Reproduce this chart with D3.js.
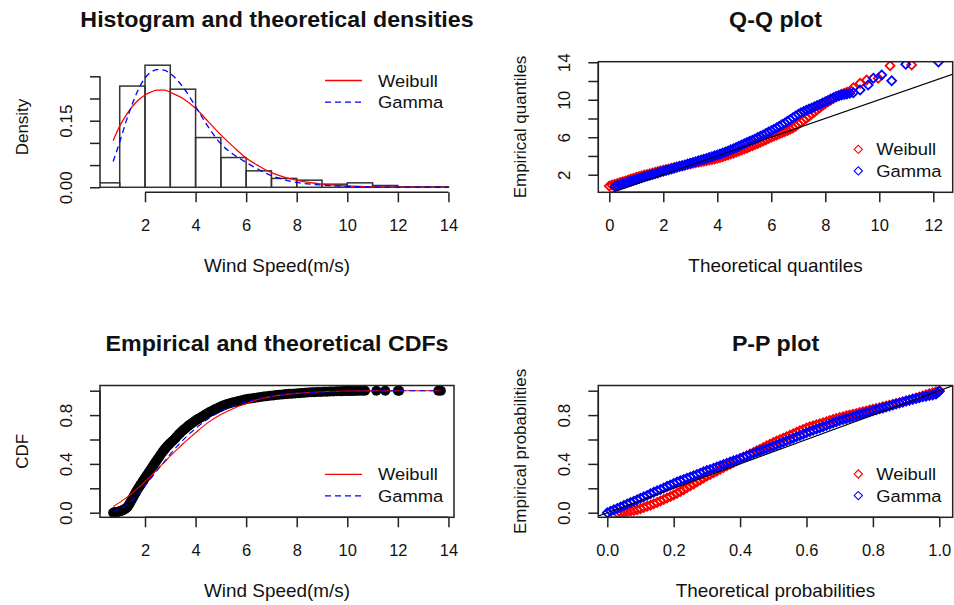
<!DOCTYPE html>
<html>
<head>
<meta charset="utf-8">
<script src="https://cdn.jsdelivr.net/npm/d3@7"></script>
<style>
  html, body { margin: 0; padding: 0; background: #fff; }
  svg { display: block; font-family: "Liberation Sans", Arial, sans-serif; }
</style>
</head>
<body>
<div id="chart"></div>
<script>
const width = 954;
const height = 605;

// ---- histogram of wind speed (density per 1 m/s bin) ----
const histBreaks = [0, 1, 2, 3, 4, 5, 6, 7, 8, 9, 10, 11, 12, 13, 14];
const histDensity = [0.010, 0.228, 0.275, 0.221, 0.112, 0.067, 0.037, 0.020, 0.016, 0.007, 0.010, 0.004, 0.001, 0.001];

// fitted densities
const densX = [0.74, 1, 1.25, 1.5, 1.75, 2, 2.25, 2.5, 2.75, 3, 3.5, 4, 4.5, 5, 5.5, 6, 6.5, 7, 7.5, 8, 9, 10, 11, 12, 13, 14];
const densWeibull = [0.105, 0.138, 0.162, 0.182, 0.197, 0.208, 0.215, 0.219, 0.219, 0.214, 0.200, 0.178, 0.148, 0.118, 0.091, 0.066, 0.048, 0.033, 0.023, 0.016, 0.007, 0.003, 0.001, 0.0004, 0.0001, 0];
const densGamma = [0.058, 0.102, 0.148, 0.188, 0.222, 0.246, 0.260, 0.265, 0.264, 0.256, 0.226, 0.182, 0.136, 0.098, 0.074, 0.056, 0.040, 0.026, 0.017, 0.011, 0.005, 0.002, 0.0008, 0.0003, 0.0001, 0];

// Q-Q points: [theoretical, empirical]
const qqWeibull = [
  [0.0, 0.80], [0.1, 0.89], [0.2, 0.98], [0.3, 1.07], [0.4, 1.16], [0.5, 1.25], [0.6, 1.34], [0.7, 1.44],
  [0.8, 1.54], [0.9, 1.63], [1.0, 1.72], [1.1, 1.80], [1.2, 1.88], [1.3, 1.96], [1.4, 2.03], [1.5, 2.10],
  [1.6, 2.17], [1.7, 2.25], [1.8, 2.33], [1.9, 2.41], [2.0, 2.48], [2.1, 2.55], [2.2, 2.62], [2.3, 2.69],
  [2.4, 2.76], [2.5, 2.83], [2.6, 2.89], [2.7, 2.96], [2.8, 3.02], [2.9, 3.09], [3.0, 3.15], [3.1, 3.21],
  [3.2, 3.27], [3.3, 3.33], [3.4, 3.38], [3.5, 3.44], [3.6, 3.50], [3.7, 3.56], [3.8, 3.62], [3.9, 3.68],
  [4.0, 3.75], [4.1, 3.83], [4.2, 3.92], [4.3, 4.01], [4.4, 4.10], [4.5, 4.20], [4.6, 4.30], [4.7, 4.41],
  [4.8, 4.52], [4.9, 4.63], [5.0, 4.75], [5.1, 4.86], [5.2, 4.98], [5.3, 5.10], [5.4, 5.22], [5.5, 5.34],
  [5.6, 5.47], [5.7, 5.60], [5.8, 5.73], [5.9, 5.86], [6.0, 6.00], [6.1, 6.12], [6.2, 6.25], [6.3, 6.36],
  [6.4, 6.48], [6.5, 6.60], [6.6, 6.72], [6.7, 6.85], [6.8, 6.98], [6.9, 7.18], [7.0, 7.40], [7.1, 7.60],
  [7.2, 7.80], [7.3, 8.02], [7.4, 8.25], [7.5, 8.47], [7.6, 8.70], [7.7, 8.92], [7.8, 9.15], [7.9, 9.38],
  [8.0, 9.60], [8.1, 9.78], [8.2, 9.95], [8.3, 10.12], [8.4, 10.30], [8.5, 10.45], [8.6, 10.60], [8.7, 10.70],
  [8.8, 10.80], [8.95, 10.95], [9.04, 11.28], [9.29, 11.75], [9.53, 12.10], [9.96, 12.29], [10.40, 13.63], [11.20, 13.71]
];
const qqGamma = [
  [0.21, 0.75], [0.3, 0.84], [0.4, 0.93], [0.5, 1.03], [0.6, 1.12], [0.7, 1.22], [0.8, 1.31], [0.9, 1.41],
  [1.0, 1.50], [1.1, 1.59], [1.2, 1.68], [1.3, 1.77], [1.4, 1.85], [1.5, 1.94], [1.6, 2.02], [1.7, 2.11],
  [1.8, 2.19], [1.9, 2.28], [2.0, 2.36], [2.1, 2.45], [2.2, 2.53], [2.3, 2.62], [2.4, 2.70], [2.5, 2.79],
  [2.6, 2.87], [2.7, 2.96], [2.8, 3.04], [2.9, 3.13], [3.0, 3.22], [3.1, 3.30], [3.2, 3.39], [3.3, 3.48],
  [3.4, 3.56], [3.5, 3.65], [3.6, 3.74], [3.7, 3.83], [3.8, 3.92], [3.9, 4.01], [4.0, 4.10], [4.1, 4.21],
  [4.2, 4.32], [4.3, 4.43], [4.4, 4.54], [4.5, 4.66], [4.6, 4.78], [4.7, 4.90], [4.8, 5.03], [4.9, 5.16],
  [5.0, 5.30], [5.1, 5.43], [5.2, 5.56], [5.3, 5.69], [5.4, 5.82], [5.5, 5.96], [5.6, 6.10], [5.7, 6.25],
  [5.8, 6.40], [5.9, 6.55], [6.0, 6.70], [6.1, 6.86], [6.2, 7.02], [6.3, 7.18], [6.4, 7.35], [6.5, 7.52],
  [6.6, 7.70], [6.7, 7.89], [6.8, 8.08], [6.9, 8.27], [7.0, 8.45], [7.1, 8.60], [7.2, 8.75], [7.3, 8.88],
  [7.4, 9.00], [7.5, 9.12], [7.6, 9.25], [7.7, 9.38], [7.8, 9.50], [7.9, 9.64], [8.0, 9.78], [8.1, 9.93],
  [8.2, 10.08], [8.3, 10.22], [8.4, 10.35], [8.5, 10.43], [8.6, 10.50], [8.7, 10.55], [8.8, 10.60],
  [8.91, 10.69], [9.04, 10.75], [9.29, 11.04], [9.59, 11.57], [9.78, 12.30], [10.09, 12.64], [10.46, 12.03],
  [10.98, 13.78], [12.19, 14.03]
];

// empirical CDF points: [speed, probability]
const ecdfPts = [
  [0.74, .000], [0.78, .002], [0.82, .003], [0.86, .005], [0.90, .006], [0.94, .008], [0.98, .010], [1.02, .012],
  [1.06, .015], [1.10, .018], [1.14, .022], [1.18, .027], [1.22, .032], [1.26, .038], [1.30, .045], [1.34, .057],
  [1.38, .070], [1.42, .085], [1.46, .100], [1.50, .115], [1.54, .130], [1.58, .145], [1.62, .160], [1.66, .175],
  [1.70, .190], [1.74, .203], [1.78, .215], [1.82, .228], [1.86, .240], [1.90, .253], [1.94, .265], [1.98, .278],
  [2.02, .290], [2.06, .303], [2.10, .315], [2.14, .328], [2.18, .340], [2.22, .353], [2.26, .365], [2.30, .378],
  [2.34, .390], [2.38, .403], [2.42, .415], [2.46, .428], [2.50, .440], [2.55, .455], [2.60, .470], [2.65, .485],
  [2.70, .500], [2.75, .513], [2.80, .525], [2.85, .538], [2.90, .550], [2.95, .560], [3.00, .570], [3.05, .580],
  [3.10, .590], [3.15, .600], [3.20, .610], [3.25, .623], [3.30, .635], [3.35, .645], [3.40, .655], [3.45, .665],
  [3.50, .675], [3.55, .683], [3.60, .690], [3.65, .700], [3.70, .710], [3.75, .718], [3.80, .725], [3.85, .733],
  [3.90, .740], [3.95, .748], [4.00, .755], [4.06, .763], [4.12, .770], [4.18, .778], [4.24, .785], [4.30, .793],
  [4.36, .800], [4.42, .808], [4.48, .815], [4.54, .823], [4.60, .830], [4.68, .838], [4.75, .845], [4.82, .853],
  [4.90, .860], [4.98, .868], [5.05, .875], [5.12, .881], [5.20, .887], [5.30, .894], [5.40, .900], [5.50, .905],
  [5.60, .910], [5.70, .915], [5.80, .920], [5.90, .925], [6.00, .930], [6.10, .934], [6.20, .937], [6.32, .941],
  [6.45, .945], [6.58, .949], [6.70, .952], [6.82, .955], [6.95, .958], [7.08, .961], [7.20, .964], [7.32, .967],
  [7.45, .969], [7.58, .972], [7.70, .974], [7.82, .976], [7.95, .978], [8.08, .980], [8.20, .982], [8.32, .984],
  [8.45, .985], [8.58, .987], [8.70, .988], [8.82, .989], [8.95, .990], [9.08, .991], [9.20, .992], [9.32, .993],
  [9.45, .994], [9.58, .995], [9.70, .996], [9.80, .996], [9.90, .997], [10.00, .997], [10.10, .998], [10.20, .998],
  [10.30, .998], [10.40, .999], [10.50, .999], [10.60, .999], [10.70, .999], [11.15, .999], [11.50, 1.0],
  [12.00, 1.0], [12.05, 1.0], [13.60, 1.0], [13.70, 1.0]
];

// fitted CDFs
const cdfX = [0.74, 1, 1.25, 1.5, 1.75, 2, 2.25, 2.5, 2.75, 3, 3.25, 3.5, 3.75, 4, 4.5, 5, 5.5, 6, 6.5, 7, 8, 9, 10, 11, 12, 13, 13.7];
const cdfWeibull = [0.050, 0.085, 0.122, 0.163, 0.208, 0.255, 0.305, 0.360, 0.410, 0.465, 0.515, 0.565, 0.610, 0.655, 0.740, 0.805, 0.855, 0.895, 0.930, 0.952, 0.978, 0.991, 0.997, 0.999, 1.000, 1.000, 1.000];
const cdfGamma = [0.010, 0.030, 0.060, 0.100, 0.158, 0.220, 0.285, 0.350, 0.415, 0.480, 0.540, 0.595, 0.645, 0.690, 0.770, 0.830, 0.875, 0.910, 0.935, 0.955, 0.977, 0.989, 0.995, 0.998, 0.999, 1.000, 1.000];

// P-P points: [theoretical, empirical]
const ppWeibull = [
  [0.03, .000], [0.04, .002], [0.05, .005], [0.06, .009], [0.07, .013], [0.08, .018], [0.09, .025], [0.10, .033],
  [0.11, .042], [0.12, .052], [0.13, .062], [0.14, .073], [0.15, .084], [0.16, .096], [0.17, .108], [0.18, .120],
  [0.19, .132], [0.20, .145], [0.21, .159], [0.22, .174], [0.23, .189], [0.24, .205], [0.25, .220], [0.26, .236],
  [0.27, .252], [0.28, .268], [0.29, .284], [0.30, .300], [0.31, .314], [0.32, .328], [0.33, .342], [0.34, .356],
  [0.35, .370], [0.36, .384], [0.37, .398], [0.38, .412], [0.39, .426], [0.40, .440], [0.41, .454], [0.42, .467],
  [0.43, .481], [0.44, .494], [0.45, .508], [0.46, .521], [0.47, .535], [0.48, .548], [0.49, .562], [0.50, .575],
  [0.51, .587], [0.52, .599], [0.53, .611], [0.54, .623], [0.55, .635], [0.56, .647], [0.57, .659], [0.58, .671],
  [0.59, .683], [0.60, .695], [0.61, .704], [0.62, .712], [0.63, .721], [0.64, .729], [0.65, .738], [0.66, .746],
  [0.67, .755], [0.68, .763], [0.69, .772], [0.70, .780], [0.71, .787], [0.72, .794], [0.73, .800], [0.74, .807],
  [0.75, .814], [0.76, .821], [0.77, .828], [0.78, .834], [0.79, .841], [0.80, .848], [0.81, .855], [0.82, .861],
  [0.83, .868], [0.84, .875], [0.85, .881], [0.86, .888], [0.87, .895], [0.88, .901], [0.89, .908], [0.90, .915],
  [0.91, .923], [0.92, .932], [0.93, .940], [0.94, .949], [0.95, .957], [0.96, .966], [0.97, .974], [0.98, .983],
  [0.99, .991], [1.00, 1.000]
];
const ppGamma = [
  [0.00, .000], [0.01, .012], [0.02, .024], [0.03, .035], [0.04, .047], [0.05, .059], [0.06, .071], [0.07, .083],
  [0.08, .094], [0.09, .106], [0.10, .118], [0.11, .130], [0.12, .142], [0.13, .155], [0.14, .167], [0.15, .179],
  [0.16, .191], [0.17, .203], [0.18, .216], [0.19, .228], [0.20, .240], [0.21, .251], [0.22, .261], [0.23, .272],
  [0.24, .282], [0.25, .293], [0.26, .303], [0.27, .314], [0.28, .324], [0.29, .335], [0.30, .345], [0.31, .355],
  [0.32, .365], [0.33, .375], [0.34, .385], [0.35, .395], [0.36, .405], [0.37, .415], [0.38, .425], [0.39, .435],
  [0.40, .445], [0.41, .455], [0.42, .465], [0.43, .475], [0.44, .485], [0.45, .495], [0.46, .505], [0.47, .515],
  [0.48, .525], [0.49, .535], [0.50, .545], [0.51, .556], [0.52, .567], [0.53, .578], [0.54, .589], [0.55, .600],
  [0.56, .611], [0.57, .622], [0.58, .633], [0.59, .644], [0.60, .655], [0.61, .665], [0.62, .675], [0.63, .685],
  [0.64, .695], [0.65, .705], [0.66, .715], [0.67, .725], [0.68, .735], [0.69, .745], [0.70, .755], [0.71, .763],
  [0.72, .771], [0.73, .779], [0.74, .787], [0.75, .795], [0.76, .803], [0.77, .811], [0.78, .819], [0.79, .827],
  [0.80, .835], [0.81, .843], [0.82, .851], [0.83, .859], [0.84, .867], [0.85, .875], [0.86, .883], [0.87, .891],
  [0.88, .899], [0.89, .907], [0.90, .915], [0.91, .922], [0.92, .929], [0.93, .936], [0.94, .943], [0.95, .950],
  [0.96, .955], [0.97, .960], [0.98, .965], [0.99, .972], [0.995, .985], [1.00, .995]
];

// ticks and labels (R drops overlapping labels)
const speedTicks = [2, 4, 6, 8, 10, 12, 14];
const densityTicks = [0, 0.05, 0.10, 0.15, 0.20, 0.25];
const densityLabels = ["0.00", "", "", "0.15", "", ""];
const qqXTicks = [0, 2, 4, 6, 8, 10, 12];
const qqYTicks = [2, 4, 6, 8, 10, 12, 14];
const qqYLabels = ["2", "", "6", "", "10", "", "14"];
const probTicks = [0, 0.2, 0.4, 0.6, 0.8, 1.0];
const probXLabels = ["0.0", "0.2", "0.4", "0.6", "0.8", "1.0"];
const probYLabels = ["0.0", "", "0.4", "", "0.8", ""];
const fitNames = ["Weibull", "Gamma"];

const ink = "#222";
const textInk = "#111";
const red = "#ff0000";
const blue = "#0000ff";
const sx = 1.08; // the reference text is a little wide

const svg = d3.select("#chart")
    .append("svg")
    .attr("width", width)
    .attr("height", height);

const defs = svg.append("defs");

function makePanel(id, box, xDomain, yDomain) {
    const x = d3.scaleLinear().domain(xDomain).range([box.l, box.r]);
    const y = d3.scaleLinear().domain(yDomain).range([box.b, box.t]);
    defs.append("clipPath").attr("id", "clip-" + id)
        .append("rect")
        .attr("x", box.l).attr("y", box.t)
        .attr("width", box.r - box.l).attr("height", box.b - box.t);
    const g = svg.append("g");
    const plot = g.append("g").attr("clip-path", `url(#clip-${id})`);
    return { g, plot, x, y, box };
}

function xAxis(p, ticks, labels) {
    const ax = p.g.append("g")
        .attr("transform", `translate(0,${p.box.b})`)
        .call(d3.axisBottom(p.x).tickValues(ticks).tickSize(10)
            .tickFormat((d, i) => labels ? labels[i] : d));
    ax.attr("font-family", null).attr("font-size", null).style("color", ink);
    ax.select(".domain").remove();
    ax.append("line")
        .attr("x1", p.x(ticks[0])).attr("x2", p.x(ticks[ticks.length - 1]))
        .attr("stroke", "currentColor");
    ax.selectAll("line").attr("stroke-width", 1.5);
    ax.selectAll("text")
        .attr("y", 38.5).attr("dy", null)
        .style("font-size", "16.5px").attr("fill", textInk);
}

function yAxis(p, ticks, labels) {
    const ax = p.g.append("g")
        .attr("transform", `translate(${p.box.l},0)`)
        .call(d3.axisLeft(p.y).tickValues(ticks).tickSize(10)
            .tickFormat((d, i) => labels ? labels[i] : d));
    ax.attr("font-family", null).attr("font-size", null).style("color", ink);
    ax.select(".domain").remove();
    ax.append("line")
        .attr("y1", p.y(ticks[0])).attr("y2", p.y(ticks[ticks.length - 1]))
        .attr("stroke", "currentColor");
    ax.selectAll("line").attr("stroke-width", 1.5);
    ax.selectAll("text")
        .attr("x", null).attr("dy", null)
        .attr("text-anchor", "middle")
        .attr("transform", "translate(-28.5,0) rotate(-90)")
        .style("font-size", "17px").attr("fill", textInk);
}

function frame(p) {
    p.g.append("rect")
        .attr("x", p.box.l).attr("y", p.box.t)
        .attr("width", p.box.r - p.box.l).attr("height", p.box.b - p.box.t)
        .attr("fill", "none").attr("stroke", ink).attr("stroke-width", 1.5);
}

function labels(p, title, xlab, ylab) {
    const cx = (p.box.l + p.box.r) / 2;
    const cy = (p.box.t + p.box.b) / 2;
    p.g.append("text")
        .attr("transform", `translate(${cx},${p.box.t - 35}) scale(${sx},1)`)
        .attr("text-anchor", "middle")
        .style("font-size", "21.5px").style("font-weight", "bold")
        .attr("fill", textInk)
        .text(title);
    p.g.append("text")
        .attr("transform", `translate(${cx},${p.box.b + 80}) scale(${sx},1)`)
        .attr("text-anchor", "middle")
        .style("font-size", "17.5px").attr("fill", textInk)
        .text(xlab);
    p.g.append("text")
        .attr("transform", `translate(${p.box.l - 72.5},${cy}) rotate(-90)`)
        .attr("text-anchor", "middle")
        .style("font-size", "17px").attr("fill", textInk)
        .text(ylab);
}

function lineLegend(p, x0, y0) {
    const lg = p.g.append("g");
    fitNames.forEach((name, i) => {
        const yy = y0 + i * 21.6;
        lg.append("line")
            .attr("x1", x0).attr("x2", x0 + 37).attr("y1", yy).attr("y2", yy)
            .attr("stroke", i === 0 ? red : blue).attr("stroke-width", 1.3)
            .attr("stroke-dasharray", i === 0 ? null : "6,4");
        lg.append("text")
            .attr("transform", `translate(${x0 + 53},${yy + 6}) scale(${sx},1)`)
            .style("font-size", "17px").attr("fill", textInk)
            .text(name);
    });
}

const diamond = d3.symbol(d3.symbolSquare, 34);
const bandDiamond = d3.symbol(d3.symbolSquare, 40);

function pointLegend(p, x0, y0) {
    const lg = p.g.append("g");
    fitNames.forEach((name, i) => {
        const yy = y0 + i * 21.6;
        lg.append("path")
            .attr("d", diamond)
            .attr("transform", `translate(${x0},${yy}) rotate(45)`)
            .attr("fill", "none").attr("stroke", i === 0 ? red : blue).attr("stroke-width", 1.1);
        lg.append("text")
            .attr("transform", `translate(${x0 + 18},${yy + 6}) scale(${sx},1)`)
            .style("font-size", "17px").attr("fill", textInk)
            .text(name);
    });
}

function diamonds(p, pts, color) {
    p.plot.append("g")
        .selectAll("path")
        .data(pts)
        .join("path")
        .attr("d", bandDiamond)
        .attr("transform", d => `translate(${p.x(d[0])},${p.y(d[1])}) rotate(45)`)
        .attr("fill", "none")
        .attr("stroke", color)
        .attr("stroke-width", 1.8);
}

// ---------- panel 1: histogram + densities ----------
const p1 = makePanel("hist", { l: 100, r: 454, t: 61.7, b: 192.3 }, [0.22, 14.22], [-0.0113, 0.2829]);
const bins = histDensity.map((d, i) => ({ x0: histBreaks[i], x1: histBreaks[i + 1], d }));
p1.plot.append("g")
    .selectAll("rect")
    .data(bins)
    .join("rect")
    .attr("x", b => p1.x(b.x0))
    .attr("y", b => p1.y(b.d))
    .attr("width", b => p1.x(b.x1) - p1.x(b.x0))
    .attr("height", b => p1.y(0) - p1.y(b.d))
    .attr("fill", "none")
    .attr("stroke", "#333")
    .attr("stroke-width", 1.5);

const densLine = d3.line().curve(d3.curveMonotoneX);
p1.plot.append("path")
    .attr("d", densLine(densX.map((v, i) => [p1.x(v), p1.y(densWeibull[i])])))
    .attr("fill", "none").attr("stroke", red).attr("stroke-width", 1.3);
p1.plot.append("path")
    .attr("d", densLine(densX.map((v, i) => [p1.x(v), p1.y(densGamma[i])])))
    .attr("fill", "none").attr("stroke", blue).attr("stroke-width", 1.3)
    .attr("stroke-dasharray", "6,4");

xAxis(p1, speedTicks);
yAxis(p1, densityTicks, densityLabels);
labels(p1, "Histogram and theoretical densities", "Wind Speed(m/s)", "Density");
lineLegend(p1, 325, 80.5);

// ---------- panel 2: Q-Q plot ----------
const p2 = makePanel("qq", { l: 598.3, r: 952.7, t: 61.7, b: 192.3 }, [-0.407, 12.719], [0.122, 14.06]);
diamonds(p2, qqWeibull, red);
diamonds(p2, qqGamma, blue);
p2.plot.append("line")
    .attr("x1", p2.x(-1)).attr("y1", p2.y(-1))
    .attr("x2", p2.x(15)).attr("y2", p2.y(15))
    .attr("stroke", "#000").attr("stroke-width", 1.1);
frame(p2);
xAxis(p2, qqXTicks);
yAxis(p2, qqYTicks, qqYLabels);
labels(p2, "Q-Q plot", "Theoretical quantiles", "Empirical quantiles");
pointLegend(p2, 858.3, 149.3);

// ---------- panel 3: CDFs ----------
const p3 = makePanel("cdf", { l: 100, r: 454, t: 385.5, b: 517.3 }, [0.22, 14.22], [-0.0377, 1.0426]);
p3.plot.append("g")
    .selectAll("circle")
    .data(ecdfPts)
    .join("circle")
    .attr("cx", d => p3.x(d[0]))
    .attr("cy", d => p3.y(d[1]))
    .attr("r", 5)
    .attr("fill", "#000");
const cdfLine = d3.line().curve(d3.curveMonotoneX);
p3.plot.append("path")
    .attr("d", cdfLine(cdfX.map((v, i) => [p3.x(v), p3.y(cdfWeibull[i])])))
    .attr("fill", "none").attr("stroke", red).attr("stroke-width", 1.1);
p3.plot.append("path")
    .attr("d", cdfLine(cdfX.map((v, i) => [p3.x(v), p3.y(cdfGamma[i])])))
    .attr("fill", "none").attr("stroke", blue).attr("stroke-width", 1.1)
    .attr("stroke-dasharray", "6,4");
frame(p3);
xAxis(p3, speedTicks);
yAxis(p3, probTicks, probYLabels);
labels(p3, "Empirical and theoretical CDFs", "Wind Speed(m/s)", "CDF");
lineLegend(p3, 325, 474.3);

// ---------- panel 4: P-P plot ----------
const p4 = makePanel("pp", { l: 598.3, r: 952.7, t: 385.5, b: 517.3 }, [-0.0271, 1.0404], [-0.0377, 1.0426]);
diamonds(p4, ppWeibull, red);
diamonds(p4, ppGamma, blue);
p4.plot.append("line")
    .attr("x1", p4.x(-0.1)).attr("y1", p4.y(-0.1))
    .attr("x2", p4.x(1.1)).attr("y2", p4.y(1.1))
    .attr("stroke", "#000").attr("stroke-width", 1.1);
frame(p4);
xAxis(p4, probTicks, probXLabels);
yAxis(p4, probTicks, probYLabels);
labels(p4, "P-P plot", "Theoretical probabilities", "Empirical probabilities");
pointLegend(p4, 858.3, 474);
</script>
</body>
</html>
